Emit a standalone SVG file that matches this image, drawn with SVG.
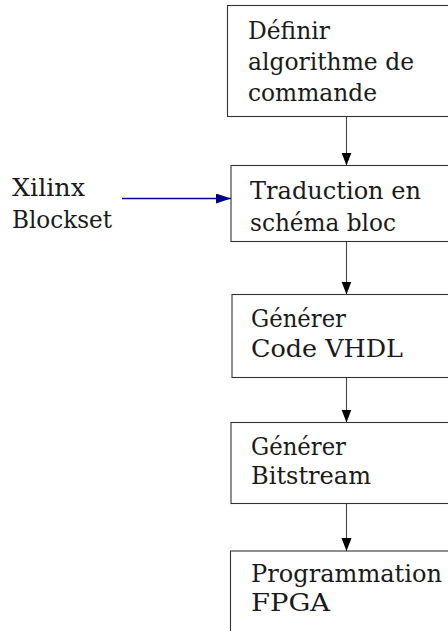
<svg xmlns="http://www.w3.org/2000/svg" width="448" height="631" viewBox="0 0 448 631">
<style>
.box{fill:#fff;stroke:#333;stroke-width:1.1}
.t{font-family:"DejaVu Serif",serif;font-size:23.5px;fill:#1a1a1a}
.c{stroke:#444;stroke-width:1.1;fill:none}
.b{stroke:#00008b;stroke-width:1.3;fill:none}
</style>
<defs>
<marker id="ah" markerUnits="userSpaceOnUse" markerWidth="14" markerHeight="12" refX="13" refY="5" orient="auto">
<path d="M0,0 L13,5 L0,10 Z" fill="#000"/>
</marker>
<marker id="ahb" markerUnits="userSpaceOnUse" markerWidth="16" markerHeight="12" refX="15" refY="5" orient="auto">
<path d="M0,0 L15,5 L0,10 Z" fill="#00008b"/>
</marker>
</defs>
<rect width="448" height="631" fill="#fff"/>
<g id="connectors">
<line class="c" x1="346.5" y1="116.5" x2="346.5" y2="165.5" marker-end="url(#ah)"/>
<line class="c" x1="346.5" y1="241.5" x2="346.5" y2="294.5" marker-end="url(#ah)"/>
<line class="c" x1="346.5" y1="377.5" x2="346.5" y2="422.5" marker-end="url(#ah)"/>
<line class="c" x1="346.5" y1="503.5" x2="346.5" y2="551" marker-end="url(#ah)"/>
<line class="b" x1="122" y1="198.5" x2="231" y2="198.5" marker-end="url(#ahb)"/>
</g>
<g id="n1">
<rect class="box" x="227.5" y="5.5" width="240" height="111"/>
<text class="t" x="248" y="39" textLength="82" lengthAdjust="spacingAndGlyphs">Définir</text>
<text class="t" x="248" y="70" textLength="166" lengthAdjust="spacingAndGlyphs">algorithme de</text>
<text class="t" x="248" y="101" textLength="129" lengthAdjust="spacingAndGlyphs">commande</text>
</g>
<g id="n2">
<rect class="box" x="231" y="165.5" width="240" height="76"/>
<text class="t" x="250" y="198.5" textLength="171" lengthAdjust="spacingAndGlyphs">Traduction en</text>
<text class="t" x="250" y="231" textLength="146" lengthAdjust="spacingAndGlyphs">schéma bloc</text>
</g>
<g id="xilinx">
<text class="t" x="12" y="196" textLength="73" lengthAdjust="spacingAndGlyphs">Xilinx</text>
<text class="t" x="12" y="228" textLength="100" lengthAdjust="spacingAndGlyphs">Blockset</text>
</g>
<g id="n3">
<rect class="box" x="232" y="294.5" width="240" height="83"/>
<text class="t" x="251" y="327" textLength="95" lengthAdjust="spacingAndGlyphs">Générer</text>
<text class="t" x="251" y="357" textLength="152" lengthAdjust="spacingAndGlyphs">Code VHDL</text>
</g>
<g id="n4">
<rect class="box" x="231" y="422.5" width="240" height="81"/>
<text class="t" x="251" y="455" textLength="95" lengthAdjust="spacingAndGlyphs">Générer</text>
<text class="t" x="251" y="484" textLength="120" lengthAdjust="spacingAndGlyphs">Bitstream</text>
</g>
<g id="n5">
<rect class="box" x="230.5" y="551" width="240" height="100"/>
<text class="t" x="251" y="582" textLength="191" lengthAdjust="spacingAndGlyphs">Programmation</text>
<text class="t" x="251" y="611" textLength="79" lengthAdjust="spacingAndGlyphs">FPGA</text>
</g>
</svg>
